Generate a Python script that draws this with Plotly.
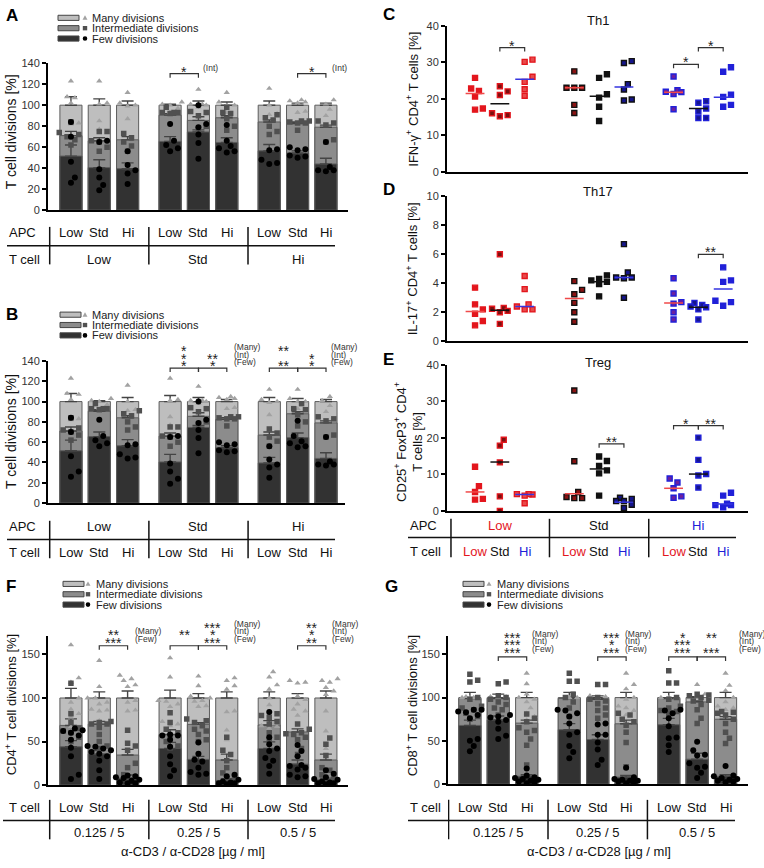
import plotly.graph_objects as go

W, H = 764, 868

levels = ["Low", "Std", "Hi"]
conc_labels = ["0.125 / 5", "0.25 / 5", "0.5 / 5"]

# ---------------- A / B : T cell divisions ----------------
# bar order as in A: T cell group (Low, Std, Hi), APC Low/Std/Hi inside
a_few = [51.5, 40.5, 39.5, 65.5, 74.5, 64.5, 56.5, 54.5, 44]
a_int = [71, 66, 67, 90.5, 85.5, 88, 84, 82.5, 79]
a_many = [100, 100, 100, 100, 100, 100, 100, 100, 100]
a_few_sem = [10.5, 7.5, 5.5, 4.5, 2, 4.5, 6, 2, 5.5]
a_int_sem = [4, 3, 3, 1.5, 3.5, 2, 2, 1.5, 2]
a_many_sem = [8, 6, 4, 1, 4, 3, 4, 2, 2]
a_many_pts = [
    [107, 123, 108, 83, 82, 102],
    [123, 102, 101, 85, 77],
    [112, 102, 100, 99, 87],
    [103, 101, 100, 97, 93],
    [115, 101, 101, 100, 98],
    [112, 103, 100, 100, 93],
    [116, 100, 92, 91],
    [105, 104, 103, 102, 94, 93],
    [105, 101, 96, 90],
]
a_int_pts = [
    [84, 74, 72, 70, 67, 62],
    [75, 75, 66, 65, 60, 56],
    [73, 69, 65, 61, 56],
    [98, 93, 93, 92, 93],
    [94, 93, 90, 80, 78],
    [98, 93, 92, 87, 80, 76],
    [91, 88, 86, 80, 75, 72],
    [85, 85, 84, 83, 83, 76],
    [85, 83, 81, 67, 65],
]
a_few_pts = [
    [84, 70, 46, 31, 26],
    [66, 65, 39, 31, 24, 19],
    [56, 43, 38, 35, 25],
    [82, 66, 62, 59, 56],
    [100, 82, 79, 72, 64, 49],
    [81, 66, 61, 59, 56, 55],
    [58, 57, 48, 45, 44],
    [60, 58, 57, 52, 51, 50],
    [65, 41, 38, 38, 37],
]
# B = same conditions regrouped by APC
b_order = [t * 3 + a for a in range(3) for t in range(3)]

# ---------------- F : CD4+ ----------------
f_few = [44, 35.6, 8, 42, 29.5, 5.3, 42, 24, 6]
f_int = [68.5, 70, 34.5, 58, 69.7, 28.8, 69, 61, 28.8]
f_many = [100, 100, 100, 100, 100, 100, 100, 100, 100]
f_few_sem = [7, 4, 3.5, 7, 3.5, 2, 7.6, 4.8, 2]
f_int_sem = [7.5, 3, 6.5, 5.5, 2, 6.8, 5, 3.6, 6.8]
f_many_sem = [11, 7, 8, 9, 5, 7, 7, 5, 8]
f_many_pts = [
    [123, 161, 100, 95, 82, 78, 118, 87, 67],
    [143, 113, 100, 100, 95, 93, 87, 85, 86, 74],
    [126, 122, 120, 115, 113, 97, 95, 86, 85, 62],
    [146, 124, 97, 96, 93, 90, 73, 70, 68],
    [125, 114, 102, 100, 97, 96, 91, 90],
    [123, 120, 114, 110, 85, 84, 63, 52],
    [130, 124, 115, 110, 100, 92, 70, 68, 67, 65],
    [120, 118, 117, 102, 98, 93, 87, 85, 80],
    [122, 120, 118, 112, 108, 104, 85, 62, 42],
]
f_int_pts = [
    [117, 82, 72, 65, 60, 55, 50, 62],
    [73, 72, 70, 70, 66, 58, 50, 45, 42],
    [63, 48, 45, 40, 25, 20, 12, 8, 6],
    [83, 72, 64, 60, 57, 50, 45, 43],
    [76, 74, 72, 68, 64, 62, 58, 52, 50],
    [55, 40, 35, 28, 20, 14, 9, 7],
    [82, 80, 78, 73, 70, 60, 55, 52],
    [70, 64, 60, 59, 58, 55, 52, 42, 35],
    [54, 47, 34, 20, 17, 12, 7, 5],
]
f_few_pts = [
    [65, 63, 62, 60, 57, 52, 43, 33, 12, 7],
    [45, 44, 42, 40, 38, 36, 33, 28, 17, 7],
    [11, 10, 9, 8, 6, 5, 3, 2, 2],
    [58, 57, 57, 52, 44, 33, 24, 17, 10],
    [49, 36, 29, 27, 20, 15, 13, 12],
    [12, 10, 6, 4, 3, 2, 2, 1],
    [84, 55, 47, 42, 39, 31, 28, 22, 13],
    [46, 39, 33, 23, 22, 20, 18, 12, 10, 9],
    [17, 13, 9, 7, 6, 4, 3, 2, 2, 1],
]

# ---------------- G : CD8+ ----------------
g_few = [67.8, 74.2, 9, 62.9, 51.5, 8, 68.6, 28.8, 9]
g_int = [99, 99, 70.5, 99, 98, 69.7, 99, 95, 75]
g_many = [100, 100, 100, 100, 100, 100, 100, 100, 100]
g_few_sem = [6.2, 4.6, 2, 7, 5.5, 2, 7.4, 6.8, 2]
g_int_sem = [1, 1, 3.5, 1, 1, 4.3, 1, 1, 3]
g_many_sem = [6, 4, 6, 6, 2, 6, 6, 1, 6]
g_many_pts = [
    [100, 100, 100, 101, 100],
    [101, 101, 100],
    [128, 116, 104, 100, 98, 95, 88, 82, 78, 74],
    [100, 100],
    [114, 102, 101, 100],
    [128, 115, 110, 100, 98, 90, 88, 85, 80],
    [100, 100, 100],
    [115, 104, 102],
    [128, 114, 108, 100, 95, 90, 88, 86],
]
g_int_pts = [
    [127, 120, 118, 100, 98, 90, 88, 86, 82, 78, 75],
    [118, 116, 102, 100, 98, 95, 92, 88, 86, 80],
    [81, 76, 72, 65, 62, 60, 52, 45, 22],
    [128, 119, 119, 104, 100, 95, 88, 78],
    [115, 115, 100, 98, 96, 93, 88, 85, 80, 76],
    [82, 80, 75, 72, 68, 60, 48, 20],
    [131, 117, 117, 100, 98, 90, 88, 85, 84, 82],
    [104, 103, 102, 100, 97, 96, 92, 86, 76, 70],
    [84, 83, 82, 80, 75, 70, 60, 53, 47],
]
g_few_pts = [
    [86, 86, 84, 83, 80, 76, 52, 50, 44, 38],
    [80, 78, 77, 74, 72, 64, 56, 52],
    [18, 10, 8, 7, 6, 5, 4, 3, 2, 1],
    [86, 85, 82, 78, 70, 60, 57, 44, 37, 30],
    [70, 69, 57, 57, 48, 40, 28, 22],
    [19, 8, 6, 5, 4, 4, 3, 2, 1],
    [86, 85, 82, 76, 67, 54, 53, 45, 37],
    [49, 39, 34, 33, 24, 20, 19, 13, 7],
    [21, 10, 9, 7, 6, 5, 4, 3, 2],
]

# ---------------- C / D / E : subsets (APC group, T cell inside) ----------------
th1_vals = [
    [25.7, 22.8, 22.1, 20.6, 17.3, 17.0],
    [23.4, 22.0, 21.0, 16.0, 15.2, 15.5],
    [30.7, 30.1, 26.0, 24.6, 22.6, 20.8],
    [27.5, 23.0, 23.0, 23.0, 18.3, 16.1],
    [25.7, 26.7, 21.2, 20.3, 17.8, 13.9],
    [30.3, 29.8, 24.0, 22.5, 19.5, 19.8],
    [26.1, 22.3, 21.8, 21.3, 21.9, 17.1],
    [19.3, 18.9, 17.3, 16.5, 14.7, 14.7],
    [28.6, 27.4, 21.1, 20.5, 18.3, 17.8],
]
th1_mean = [21.4, 18.6, 25.3, 23.0, 20.7, 23.2, 21.8, 17.3, 20.4]
th17_vals = [
    [3.7, 2.55, 2.2, 1.9, 1.4, 1.1],
    [6.0, 2.3, 2.25, 2.1, 2.0, 1.2],
    [4.5, 3.6, 2.55, 2.4, 2.2, 2.2],
    [4.15, 3.55, 3.25, 2.65, 2.0, 1.35],
    [4.55, 4.2, 4.3, 4.1, 3.95, 3.1],
    [6.7, 4.75, 4.4, 4.35, 4.4, 3.0],
    [4.35, 3.3, 2.7, 2.6, 2.0, 1.5],
    [2.65, 2.5, 2.35, 2.4, 2.2, 1.5],
    [5.1, 4.2, 4.1, 2.8, 2.7, 2.45],
]
th17_mean = [2.05, 2.15, 2.4, 2.95, 4.1, 4.4, 2.65, 2.35, 3.6]
treg_vals = [
    [12.1, 6.8, 5.2, 3.1, 3.3],
    [19.5, 17.9, 13.3, 4.0, 0.0],
    [4.6, 4.5, 4.6, 4.2, 2.1],
    [33.0, 13.6, 5.2, 3.8, 3.5, 3.5],
    [14.9, 13.7, 12.3, 11.1, 10.3, 4.2],
    [3.6, 3.3, 2.7, 2.7, 1.7, 0.8],
    [8.9, 7.8, 6.2, 3.6, 4.0],
    [20.1, 14.0, 10.1, 9.7, 6.4],
    [5.0, 4.2, 2.0, 1.6, 1.6, 1.0],
]
treg_mean = [5.2, 13.4, 4.5, 4.7, 11.5, 2.4, 6.2, 10.1, 1.9]

# ---------------- style ----------------
FONT = "Liberation Sans, Arial, sans-serif"
LIGHT, MID, DARK, EDGE, ERR = "#bebebe", "#8c8c8c", "#323232", "#5c5c5c", "#444444"
RED, BLK, BLU = "#e3161d", "#111111", "#2020d8"
apc_col = [RED, BLK, BLU]
mean_col = ["#f04a4a", "#111111", "#3535e0"]
fill_col = [["#e3161d", "#7a1010", "#e84a4a"],
            ["#8a1212", "#111111", "#15158a"],
            ["#6a1fa0", "#15158c", "#2020d8"]]

specs = {
    1: dict(x=(48, 348), y=(58, 207), xr=(-0.81, 9.78), yr=(0, 140), dt=20),
    2: dict(x=(48, 345), y=(360, 504), xr=(-0.81, 9.67), yr=(0, 140), dt=20),
    3: dict(x=(447, 748), y=(20, 168), xr=(-1.13, 11.0), yr=(0, 40), dt=10),
    4: dict(x=(447, 748), y=(193, 340), xr=(-1.13, 11.0), yr=(0, 10), dt=2),
    5: dict(x=(447, 748), y=(364, 512), xr=(-1.13, 11.0), yr=(0, 40), dt=10),
    6: dict(x=(48, 348), y=(639, 790), xr=(-0.81, 9.78), yr=(0, 171), dt=50),
    7: dict(x=(448, 748), y=(639, 789), xr=(-0.77, 9.79), yr=(0, 171), dt=50),
}


def px(x):
    return x / W


def py(y):
    return 1 - y / H


def ids(n):
    return ("x", "y") if n == 1 else (f"x{n}", f"y{n}")


def scale(n):
    s = specs[n]
    ppx = (s["x"][1] - s["x"][0]) / (s["xr"][1] - s["xr"][0])
    ppy = (s["y"][1] - s["y"][0]) / (s["yr"][1] - s["yr"][0])
    return ppx, ppy


def bar_x(k):
    return (k // 3) * 3.5 + k % 3


def dot_x(g):
    return (g // 3) * 4 + g % 3


def swarm(vals, ppx, ppy, d, maxw):
    # simple bee-swarm in pixel space, limited to +-maxw pixels
    order = sorted(range(len(vals)), key=lambda i: vals[i])
    placed, offs = [], [0.0] * len(vals)
    step = d * 0.6
    cands = [0.0]
    k = 1
    while k * step <= maxw:
        cands += [k * step, -k * step]
        k += 1
    for i in order:
        y = vals[i] * ppy
        best, bestd = 0.0, -1.0
        for c in cands:
            md = min([((c - a) ** 2 + (y - b) ** 2) ** 0.5 for a, b in placed] or [1e9])
            if md >= d:
                best = c
                break
            if md > bestd:
                best, bestd = c, md
        placed.append((best, y))
        offs[i] = best / ppx
    return offs


fig = go.Figure()
layout = dict(width=W, height=H, margin=dict(l=0, r=0, t=0, b=0), paper_bgcolor="white",
              plot_bgcolor="white", showlegend=False, barmode="overlay",
              font=dict(family=FONT, color="#111"))
for n, s in specs.items():
    xa, ya = ids(n)
    layout["xaxis" if n == 1 else f"xaxis{n}"] = dict(
        domain=[px(s["x"][0]), px(s["x"][1])], range=list(s["xr"]), anchor=ya,
        showline=True, linewidth=2, linecolor="black", showticklabels=False, ticks="",
        showgrid=False, zeroline=False, fixedrange=True)
    layout["yaxis" if n == 1 else f"yaxis{n}"] = dict(
        domain=[py(s["y"][1]), py(s["y"][0])], range=list(s["yr"]), anchor=xa,
        showline=True, linewidth=2, linecolor="black", ticks="outside", ticklen=4,
        tickwidth=1.5, tickcolor="black", dtick=s["dt"], tick0=0,
        tickfont=dict(size=11, color="#333"), showgrid=False, zeroline=False, fixedrange=True)
fig.update_layout(**layout)

ann = []
shapes = []


def text(x, y, t, size=13, xref="paper", yref="paper", xanchor="center", color="#111", **kw):
    ann.append(dict(x=x, y=y, xref=xref, yref=yref, text=t, showarrow=False, xanchor=xanchor,
                    yanchor="middle", font=dict(size=size, color=color, family=FONT), **kw))


def bar_panel(n, few, inter, many, few_sem, int_sem, many_sem, many_pts, int_pts, few_pts):
    xa, ya = ids(n)
    ppx, ppy = scale(n)
    xs = [bar_x(k) for k in range(9)]
    for vals, sem, col in ((many, many_sem, LIGHT), (inter, int_sem, MID), (few, few_sem, DARK)):
        fig.add_trace(go.Bar(
            x=xs, y=vals, width=0.78, xaxis=xa, yaxis=ya, hoverinfo="skip",
            marker=dict(color=col, line=dict(color=EDGE, width=1)),
            error_y=dict(type="data", array=sem, arrayminus=[0] * len(sem), symmetric=False,
                         color=ERR, thickness=1.4, width=6)))
    for pts, sym, col, size in ((many_pts, "triangle-up", "#a2a2a2", 5.5),
                                (int_pts, "square", "#505050", 5.5),
                                (few_pts, "circle", "#000000", 6)):
        X, Y = [], []
        for k, v in enumerate(pts):
            offs = swarm(v, ppx, ppy, 6.5, 13)
            X += [xs[k] + o for o in offs]
            Y += v
        fig.add_trace(go.Scatter(x=X, y=Y, mode="markers", xaxis=xa, yaxis=ya, hoverinfo="skip",
                                 marker=dict(symbol=sym, size=size, color=col, line=dict(width=0))))


def dot_panel(n, vals, means):
    xa, ya = ids(n)
    ppx, ppy = scale(n)
    X, Y, LC, FC = [], [], [], []
    for g, v in enumerate(vals):
        a, t = g // 3, g % 3
        offs = swarm(v, ppx, ppy, 6.5, 9)
        X += [dot_x(g) + o for o in offs]
        Y += v
        LC += [apc_col[a]] * len(v)
        FC += [fill_col[a][t]] * len(v)
    fig.add_trace(go.Scatter(x=X, y=Y, mode="markers", xaxis=xa, yaxis=ya, hoverinfo="skip",
                             marker=dict(symbol="square", size=5, color=FC,
                                         line=dict(color=LC, width=1.4))))
    for t in range(3):
        lx, ly = [], []
        for g in range(9):
            if g % 3 == t:
                c = dot_x(g)
                lx += [c - 0.38, c + 0.38, None]
                ly += [means[g], means[g], None]
        fig.add_trace(go.Scatter(x=lx, y=ly, mode="lines", xaxis=xa, yaxis=ya, hoverinfo="skip",
                                 line=dict(color=mean_col[t], width=1.5)))


def bracket(n, x0, x1, y, rows, row0=6, step=7.5):
    xa, ya = ids(n)
    _, ppy = scale(n)
    tick = 4 / ppy
    shapes.append(dict(type="path", xref=xa, yref=ya,
                       path=f"M {x0},{y - tick} L {x0},{y} L {x1},{y} L {x1},{y - tick}",
                       line=dict(color="#333", width=1.2)))
    for r, s in enumerate(rows):
        if s:
            k = len(rows) - 1 - r
            ann.append(dict(x=(x0 + x1) / 2, y=y, xref=xa, yref=ya, text=s, showarrow=False,
                            xanchor="center", yanchor="middle", yshift=row0 + k * step - 4,
                            font=dict(size=14, color="#222", family=FONT)))


def sig_labels(n, x, y, rows, row0=6, step=7.5):
    xa, ya = ids(n)
    for r, s in enumerate(rows):
        k = len(rows) - 1 - r
        ann.append(dict(x=x, y=y, xref=xa, yref=ya, text=s, showarrow=False, xanchor="left",
                        yanchor="middle", yshift=row0 + k * step,
                        font=dict(size=8.5, color="#333", family=FONT)))


def legend(x0, y0, x_sym, x_txt):
    rows = [("Many divisions", LIGHT, "tri", "#a2a2a2"),
            ("Intermediate divisions", MID, "sq", "#505050"),
            ("Few divisions", DARK, "circ", "#000")]
    for i, (lab, col, sym, scol) in enumerate(rows):
        y = y0 + i * 10.5
        shapes.append(dict(type="rect", xref="paper", yref="paper", x0=px(x0), x1=px(x0 + 21),
                           y0=py(y + 2.6), y1=py(y - 2.6), fillcolor=col,
                           line=dict(color="#444", width=1)))
        if sym == "tri":
            path = f"M {px(x_sym - 2.5)},{py(y + 2)} L {px(x_sym + 2.5)},{py(y + 2)} L {px(x_sym)},{py(y - 2.5)} Z"
            shapes.append(dict(type="path", xref="paper", yref="paper", path=path,
                               fillcolor=scol, line=dict(width=0)))
        elif sym == "sq":
            shapes.append(dict(type="rect", xref="paper", yref="paper", x0=px(x_sym - 2.2),
                               x1=px(x_sym + 2.2), y0=py(y + 2.2), y1=py(y - 2.2),
                               fillcolor=scol, line=dict(width=0)))
        else:
            shapes.append(dict(type="circle", xref="paper", yref="paper", x0=px(x_sym - 2.3),
                               x1=px(x_sym + 2.3), y0=py(y + 2.3), y1=py(y - 2.3),
                               fillcolor=scol, line=dict(width=0)))
        text(px(x_txt), py(y), lab, size=11, xanchor="left", color="#222")


def vline(n, x, ytop, ybot):
    xa, _ = ids(n)
    shapes.append(dict(type="line", xref=xa, yref="paper", x0=x, x1=x, y0=py(ytop), y1=py(ybot),
                       line=dict(color="#111", width=1.5)))


def hline(x0, x1, y):
    shapes.append(dict(type="line", xref="paper", yref="paper", x0=px(x0), x1=px(x1),
                       y0=py(y), y1=py(y), line=dict(color="#111", width=1.5)))


def ytitle(x, y, t, size=13):
    text(px(x), py(y), t, size=size, textangle=-90)


# ---------- panels ----------
bar_panel(1, a_few, a_int, a_many, a_few_sem, a_int_sem, a_many_sem,
          a_many_pts, a_int_pts, a_few_pts)
pick = lambda lst: [lst[i] for i in b_order]
bar_panel(2, pick(a_few), pick(a_int), pick(a_many), pick(a_few_sem), pick(a_int_sem),
          pick(a_many_sem), pick(a_many_pts), pick(a_int_pts), pick(a_few_pts))
bar_panel(6, f_few, f_int, f_many, f_few_sem, f_int_sem, f_many_sem,
          f_many_pts, f_int_pts, f_few_pts)
bar_panel(7, g_few, g_int, g_many, g_few_sem, g_int_sem, g_many_sem,
          g_many_pts, g_int_pts, g_few_pts)
dot_panel(3, th1_vals, th1_mean)
dot_panel(4, th17_vals, th17_mean)
dot_panel(5, treg_vals, treg_mean)

# significance
bracket(1, bar_x(3), bar_x(4), 130, ["*"])
bracket(1, bar_x(7), bar_x(8), 130, ["*"])
sig_labels(1, bar_x(4) + 0.1, 130, ["(Int)"])
sig_labels(1, bar_x(8) + 0.15, 130, ["(Int)"])

bracket(2, bar_x(3), bar_x(4), 133, ["*", "*", "*"])
bracket(2, bar_x(4), bar_x(5), 133, ["**", "*"])
bracket(2, bar_x(6), bar_x(7), 133, ["**", "", "**"])
bracket(2, bar_x(7), bar_x(8), 133, ["*", "*"])
sig_labels(2, bar_x(5) + 0.2, 133, ["(Many)", "(Int)", "(Few)"])
sig_labels(2, bar_x(8) + 0.1, 133, ["(Many)", "(Int)", "(Few)"])

bracket(6, bar_x(1), bar_x(2), 160, ["**", "***"], row0=7)
bracket(6, bar_x(3), bar_x(4), 160, ["**", ""], row0=7)
bracket(6, bar_x(4), bar_x(5), 160, ["***", "*", "***"], row0=7)
bracket(6, bar_x(7), bar_x(8), 160, ["**", "*", "**"], row0=7)
sig_labels(6, bar_x(2) + 0.2, 160, ["(Many)", "(Few)"], row0=7)
sig_labels(6, bar_x(5) + 0.2, 160, ["(Many)", "(Int)", "(Few)"], row0=7)
sig_labels(6, bar_x(8) + 0.15, 160, ["(Many)", "(Int)", "(Few)"], row0=7)

bracket(7, bar_x(1), bar_x(2), 147, ["***", "***", "***"], row0=8)
bracket(7, bar_x(4), bar_x(5), 147, ["***", "*", "***"], row0=8)
bracket(7, bar_x(6), bar_x(7), 147, ["*", "***", "***"], row0=8)
bracket(7, bar_x(7), bar_x(8), 147, ["**", "", "***"], row0=8)
sig_labels(7, bar_x(2) + 0.1, 147, ["(Many)", "(Int)", "(Few)"], row0=8)
sig_labels(7, bar_x(5) - 0.1, 147, ["(Many)", "(Int)", "(Few)"], row0=8)
sig_labels(7, bar_x(8) + 0.4, 147, ["(Many)", "(Int)", "(Few)"], row0=8)

bracket(3, dot_x(1), dot_x(2), 34, ["*"])
bracket(3, dot_x(6), dot_x(7), 29.4, ["*"])
bracket(3, dot_x(7), dot_x(8), 34, ["*"])
bracket(4, dot_x(7), dot_x(8), 6.0, ["**"])
bracket(5, dot_x(4), dot_x(5), 18.4, ["**"])
bracket(5, dot_x(6), dot_x(7), 23.4, ["*"])
bracket(5, dot_x(7), dot_x(8), 23.4, ["**"])

# titles of C/D/E
text(px(598), py(15), "Th1", size=13)
text(px(598), py(188), "Th17", size=13)
text(px(598), py(361), "Treg", size=13)

# legends
legend(58, 12, 85, 90)
legend(60, 313, 85, 90)
legend(63, 586, 88, 94)
legend(463, 586, 489, 495)

# panel letters
for lab, x, y in (("A", 4, 10), ("B", 4, 313), ("C", 381, 9), ("D", 381, 186),
                  ("E", 381, 358), ("F", 4, 589), ("G", 383, 589)):
    text(px(x), py(y), f"<b>{lab}</b>", size=17, xanchor="left", color="#000")

# y titles
ytitle(11, 128, "T cell divisions [%]", size=14)
ytitle(11, 432, "T cell divisions [%]", size=14)
ytitle(412, 94, "IFN-γ<sup>+</sup> CD4<sup>+</sup> T cells [%]")
ytitle(412, 266, "IL-17<sup>+</sup> CD4<sup>+</sup> T cells [%]")
ytitle(409, 442, "CD25<sup>+</sup> FoxP3<sup>+</sup> CD4<sup>+</sup><br>T cells [%]")
ytitle(11, 709, "CD4<sup>+</sup> T cell divisions [%]")
ytitle(412, 709, "CD8<sup>+</sup> T cell divisions [%]")

# ---------- tables ----------
# A: APC per bar, T cell per group
text(px(7), py(230), "APC", xanchor="left")
text(px(7), py(257), "T cell", xanchor="left")
for k in range(9):
    text(bar_x(k), py(230), levels[k % 3], xref="x")
for g in range(3):
    text(bar_x(3 * g + 1), py(257), levels[g], xref="x")
hline(7, 335, 243)
for x in (-0.75, 2.75, 6.25):
    vline(1, x, 224, 262)

# B: APC per group, T cell per bar
text(px(7), py(528), "APC", xanchor="left")
text(px(7), py(554), "T cell", xanchor="left")
for g in range(3):
    text(bar_x(3 * g + 1), py(528), levels[g], xref="x2")
for k in range(9):
    text(bar_x(k), py(554), levels[k % 3], xref="x2")
hline(7, 335, 541)
for x in (-0.75, 2.75, 6.25):
    vline(2, x, 522, 560)

# E: coloured APC / T cell
text(px(408), py(527), "APC", xanchor="left")
text(px(408), py(553), "T cell", xanchor="left")
for g in range(3):
    text(dot_x(3 * g + 1), py(527), levels[g], xref="x5", color=apc_col[g])
for k in range(9):
    text(dot_x(k), py(553), levels[k % 3], xref="x5", color=apc_col[k % 3])
hline(408, 736, 539)
for x in (-0.97, 3, 7):
    vline(5, x, 520, 559)

# F, G: T cell per bar, stimulation per group
for n, x_lab, x0, x1, xt in ((6, 7, 3, 335, 193), (7, 408, 408, 735, 599)):
    xa, _ = ids(n)
    text(px(x_lab), py(813), "T cell", xanchor="left")
    for k in range(9):
        text(bar_x(k), py(813), levels[k % 3], xref=xa)
    for g in range(3):
        text(bar_x(3 * g + 1), py(838), conc_labels[g], xref=xa)
    hline(x0, x1, 826)
    for x in (-0.75, 2.75, 6.25):
        vline(n, x, 805, 845)
    text(px(xt), py(857), "α-CD3 / α-CD28 [µg / ml]", size=13)

fig.update_layout(annotations=ann, shapes=shapes)
fig.write_html("out.html", config={"displayModeBar": False},
               post_script="document.body.style.margin='0';")
